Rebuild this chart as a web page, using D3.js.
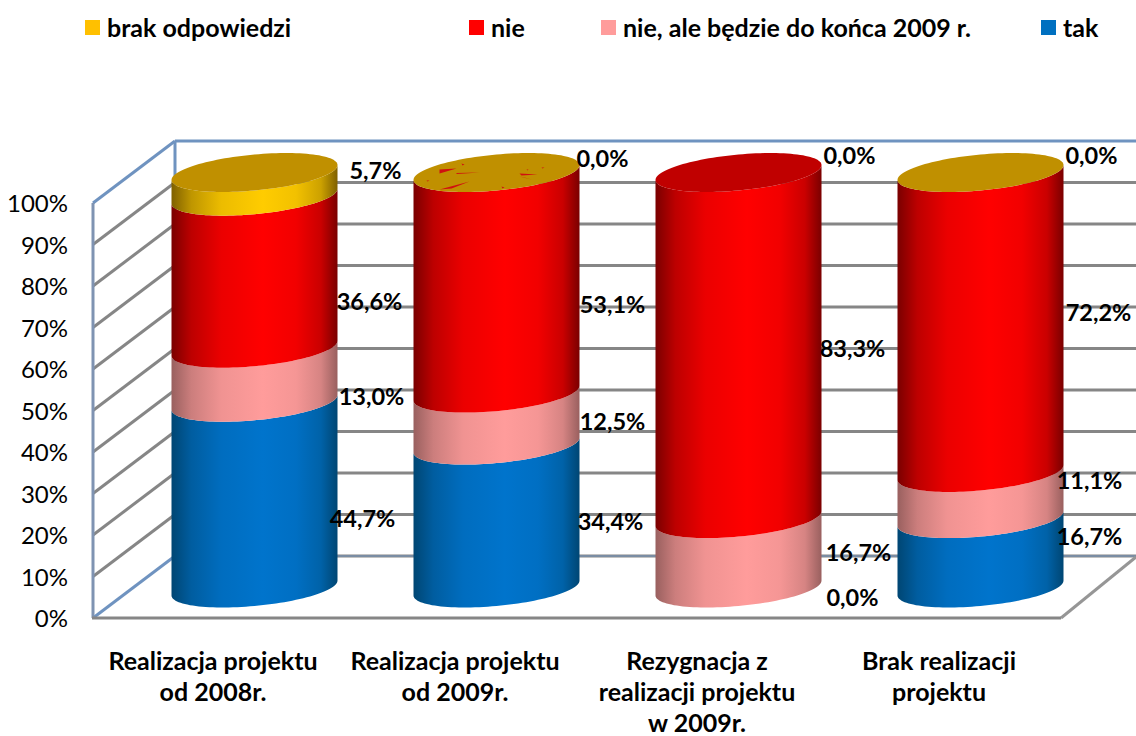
<!DOCTYPE html>
<html><head><meta charset="utf-8">
<script src="https://cdnjs.cloudflare.com/ajax/libs/d3/7.8.5/d3.min.js"></script>
<style>html,body{margin:0;padding:0;background:#fff}svg{display:block}text{font-family:Lato,sans-serif;fill:#000}</style>
</head><body><svg id="c" width="1136" height="736"></svg>
<script>
const categories=[["Realizacja projektu","od 2008r."],["Realizacja projektu","od 2009r."],["Rezygnacja z","realizacji projektu","w 2009r."],["Brak realizacji","projektu"]];
const seriesNames=["tak","nie, ale będzie do końca 2009 r.","nie","brak odpowiedzi"];
const tak=[44.7,34.4,0.0,16.7];
const nieAle=[13.0,12.5,16.7,11.1];
const nie=[36.6,53.1,83.3,72.2];
const brak=[5.7,0.0,0.0,0.0];
const tickLabels=[0,10,20,30,40,50,60,70,80,90,100];
const legendOrder=[3,2,1,0];
const topSeries=[3,3,2,3];

// style / layout
const sideColors=[["#004673","#0074cc"],["#99605f","#ff9c9b"],["#7a0000","#ff0000"],["#7f6000","#ffcc00"]];
const topColors=["#005a9e","#ff9c9b","#c00000","#c09000"];
const legendColors=["#0070c0","#ff9c9b","#ff0000","#ffc000"];
const labelDx=[[25,34,32,38],[31,33,33,23],[31,37,31,28],[26,26,35,28]];
const labelDy=[[24,22,30,-13],[5.5,3,22,-13.5],[10,0,3,-16.5],[-16,-15,-9.5,-16.5]];
const legendX=[85,469,601,1041];
const shards=[[-57,-3,-40,-4,-57,1],[-57,17,-27,9,-45,16],[-40,0.5,-17,0,-40,1.5],[23,1,41,2,25,3],[23,4,35,7,28,5],[-70,8,-67,8,-69,9],[-35,-9,-32,-8,-34,-7],[30,-3,32,-3,31,-2],[45,-5,48,-5,46,-4],[5,14,8,15,6,16]];

const series=[tak,nieAle,nie,brak];
const svg=d3.select("#c");
const defs=svg.append("defs");
sideColors.forEach((c,i)=>{
  const g=defs.append("linearGradient").attr("id","g"+i);
  const mix=d3.interpolateRgb(c[0],c[1]);
  [[0,0],[.12,.5],[.3,.85],[.55,1],[.75,.9],[.9,.6],[1,0]].forEach(s=>
    g.append("stop").attr("offset",s[0]).attr("stop-color",mix(s[1])));
});

const yFront=d3.scaleLinear().domain([0,100]).range([618,203]);
const yBack=d3.scaleLinear().domain([0,100]).range([556,141]);
const yCyl=d3.scaleLinear().domain([0,100]).range([588,172.5]);
const x=d3.scaleBand().domain(d3.range(4)).range([133.5,1101.5]);
const rx=83, ry=18, shear=-0.09;
const backX=175, frontX=93, floorRight=1061;
const grey="#868686", blue="#6f93c0";

const line=(a,b,c,w)=>svg.append("line").attr("x1",a[0]).attr("y1",a[1]).attr("x2",b[0]).attr("y2",b[1]).attr("stroke",c).attr("stroke-width",w);

// back wall + left wall grid
tickLabels.forEach(t=>{
  const edge=t===100||t===0;
  line([backX,yBack(t)],[1136,yBack(t)],t===100?blue:grey,3);
  if(t===0) line([backX,yBack(t)],[1136,yBack(t)],blue,1);
  line([frontX,yFront(t)],[backX,yBack(t)],edge?blue:grey,3);
});
line([backX,yBack(100)],[backX,yBack(0)],blue,3);
line([frontX,yFront(100)],[frontX,yFront(0)],"#7f93b2",3);
line([frontX-1,yFront(0)],[floorRight,yFront(0)],grey,3);
line([floorRight,yFront(0)],[1136,yBack(0)+1],"#969696",3);

// axis tick labels
const axis=d3.axisLeft(yFront).tickValues(tickLabels).tickSize(0).tickPadding(0).tickFormat(d=>d+"%");
const ag=svg.append("g").attr("transform","translate(68,1)").call(axis);
ag.select(".domain").remove();
ag.selectAll("text").style("font-size","24px").style("font-family","Lato,sans-serif").attr("fill","#000");

// cylinders
const ts=d3.range(0,1.0001,1/60).map(k=>k*Math.PI);
const pt=(cx,cy,t)=>[cx+rx*Math.cos(t),cy+shear*rx*Math.cos(t)+ry*Math.sin(t)];
const lg=d3.line();
categories.forEach((cat,i)=>{
  const cx=x(i)+x.bandwidth()/2;
  let acc=0;
  series.forEach((s,k)=>{
    const v=s[i]; if(v<=0) return;
    const y0=yCyl(acc), y1=yCyl(acc+v); acc+=v;
    const lower=ts.map(t=>pt(cx,y0,t)).reverse();   // left -> right along front
    const upper=ts.map(t=>pt(cx,y1,t));             // right -> left along front
    svg.append("path").attr("d",lg(lower.concat(upper))+"Z").attr("fill",`url(#g${k})`);
  });
  const top=d3.range(0,2.0001,1/60).map(k=>pt(cx,yCyl(100),k*Math.PI));
  svg.append("path").attr("d",lg(top)+"Z").attr("fill",topColors[topSeries[i]]);
  if(i===1) shards.forEach(p=>svg.append("path")
    .attr("d",`M${cx+p[0]},${yCyl(100)+p[1]}L${cx+p[2]},${yCyl(100)+p[3]}L${cx+p[4]},${yCyl(100)+p[5]}Z`)
    .attr("fill","#d01010"));
});

// data labels
categories.forEach((cat,i)=>{
  const cx=x(i)+x.bandwidth()/2;
  let acc=0;
  series.forEach((s,k)=>{
    const v=s[i], mid=acc+v/2; acc+=v;
    svg.append("text").attr("x",cx+rx+labelDx[i][k]).attr("y",yCyl(mid)+labelDy[i][k]-1)
      .attr("text-anchor","middle").attr("dominant-baseline","central")
      .style("font-weight",700).style("font-size","23.5px")
      .text(v.toFixed(1).replace(".",",")+"%");
  });
});

// category labels
categories.forEach((cat,i)=>{
  const cx=x(i)+x.bandwidth()/2-41.5;
  cat.forEach((l,j)=>svg.append("text").attr("x",cx).attr("y",660+j*31)
    .attr("text-anchor","middle").attr("dominant-baseline","central")
    .style("font-weight",700).style("font-size","25px").text(l));
});

// legend
legendOrder.forEach((k,j)=>{
  svg.append("rect").attr("x",legendX[j]).attr("y",20).attr("width",15).attr("height",15).attr("fill",legendColors[k]);
  svg.append("text").attr("x",legendX[j]+22).attr("y",27).attr("dominant-baseline","central")
    .style("font-weight",700).style("font-size","25px").text(seriesNames[k]);
});
</script></body></html>
